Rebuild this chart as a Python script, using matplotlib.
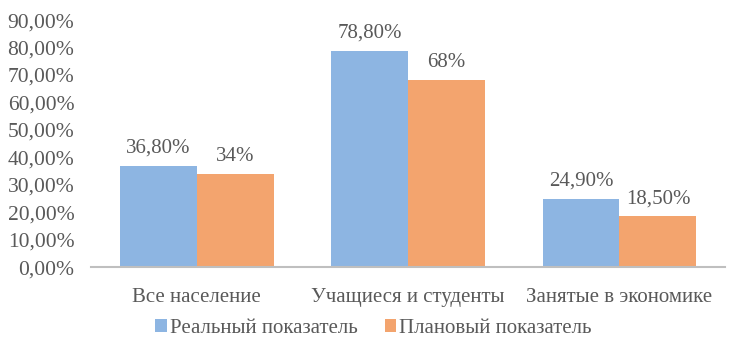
import matplotlib.pyplot as plt
import numpy as np
from matplotlib.ticker import FuncFormatter

categories = ["Все население", "Учащиеся и студенты", "Занятые в экономике"]
real_values = [36.8, 78.8, 24.9]
plan_values = [34.0, 68.0, 18.5]
real_labels = ["36,80%", "78,80%", "24,90%"]
plan_labels = ["34%", "68%", "18,50%"]

plt.rcParams['font.family'] = ['Liberation Serif', 'DejaVu Serif']
text_color = '#595959'

fig = plt.figure(figsize=(7.43, 3.58), dpi=100)
ax = fig.add_axes([0.1225, 0.254, 0.8535, 0.69])

x = np.arange(len(categories))
w = 0.364
b1 = ax.bar(x - w / 2, real_values, w, color='#8DB5E2', label='Реальный показатель')
b2 = ax.bar(x + w / 2, plan_values, w, color='#F3A46E', label='Плановый показатель')

for bars, labels in ((b1, real_labels), (b2, plan_labels)):
    for bar, lab in zip(bars, labels):
        ax.text(bar.get_x() + bar.get_width() / 2, bar.get_height() + 3, lab,
                ha='center', va='bottom', fontsize=15, color=text_color)

ax.set_xlim(-0.5, 2.5)
ax.set_ylim(0, 90)
ax.set_yticks(np.arange(0, 91, 10))
ax.yaxis.set_major_formatter(FuncFormatter(lambda v, p: f"{v:.2f}".replace('.', ',') + '%'))
ax.set_xticks(x)
ax.set_xticklabels(categories)
ax.tick_params(axis='both', length=0, labelsize=15, colors=text_color)
ax.tick_params(axis='y', labelsize=15.5, pad=12)
ax.tick_params(axis='x', pad=15)

for s in ('top', 'right', 'left'):
    ax.spines[s].set_visible(False)
ax.spines['bottom'].set_color('#BFBFBF')
ax.spines['bottom'].set_linewidth(1.5)

leg = fig.legend(loc='center', bbox_to_anchor=(0.503, 0.083), ncol=2, frameon=False,
                 fontsize=15, handlelength=0.55, handleheight=0.55, handletextpad=0.15,
                 columnspacing=1.3)
for t in leg.get_texts():
    t.set_color(text_color)

fig.savefig('out.png', dpi=100)
